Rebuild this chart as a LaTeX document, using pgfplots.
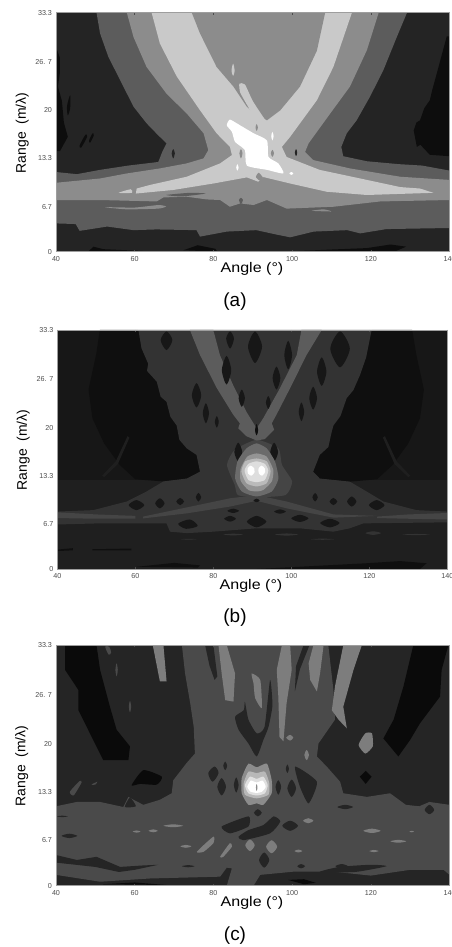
\documentclass[border=0pt]{standalone}
\usepackage{pgfplots}
\pgfplotsset{compat=1.18}
\usepackage{fontspec}
\setmainfont{Liberation Sans}
\newcommand\rect[2]{\addplot[fill=#1,draw=none,forget plot] coordinates {#2} --cycle;}
\newcommand\poly[2]{\addplot[fill=#1,draw=none,smooth cycle,tension=0.35,forget plot] coordinates {#2};}
\newcommand\blob[2]{\addplot[fill=#1,draw=none,smooth cycle,forget plot] coordinates {#2};}
\definecolor{k0}{gray}{0.05}
\definecolor{k1}{gray}{0.14}
\definecolor{k2}{gray}{0.36}
\definecolor{k3}{gray}{0.55}
\definecolor{k4}{gray}{0.79}
\definecolor{b0}{gray}{0.06}
\definecolor{b1}{gray}{0.09}
\definecolor{b2}{gray}{0.12}
\definecolor{b3}{gray}{0.20}
\definecolor{b4}{gray}{0.27}
\definecolor{b5}{gray}{0.36}
\definecolor{c0}{gray}{0.04}
\definecolor{c1}{gray}{0.145}
\definecolor{c2}{gray}{0.29}
\definecolor{c3}{gray}{0.49}
\pgfplotsset{
 panel/.style={
  scale only axis, anchor=south west, axis on top,
  xmin=40,xmax=140,ymin=0,ymax=33.3,
  xtick={40,60,80,100,120,140},
  xticklabels={40,60,80,100,120,140},
  tick align=inside, xtick pos=both, ytick pos=left,
  major tick length=2bp,
  ytick style={draw=none}, xtick style={draw=black!70,line width=.5bp},
  axis line style={draw=black!38,line width=.6bp},
  tick label style={font=\fontsize{7.2}{8}\selectfont,text=black!70},
  xticklabel style={yshift=-1.2bp},
  yticklabel style={xshift=-.5bp},
 }
}
\begin{document}
\begin{tikzpicture}[x=1bp,y=1bp]
\path[use as bounding box] (0,0) rectangle (452,947);
% ---------------- (a)
\begin{axis}[panel,at={(56bp,695.3bp)},width=393.5bp,height=239bp,
  ytick={0,6.26,13,19.69,26.47,33.3},yticklabels={0,6.7,13.3,20,26. 7,33.3}]
\rect{k1}{(40,0)(140,0)(140,33.3)(40,33.3)}
\rect{k0}{(48.2,0)(49.5,.7)(52,.35)(62,.1)}
\rect{k0}{(72.4,.2)(76,.9)(80.5,.4)(81,0)}
\rect{k0}{(97.8,0)(110,.3)(119,.5)(125,1)(129,.7)(126,0)}
\rect{k0}{(40,28.5)(41,27)(41,25)(40.5,23)(41.5,21)(42,18)(43,16)(41,14)(40,14)}
\rect{k0}{(139.3,30)(136.8,24.9)(135.6,22.5)(135,21.1)(133.6,20)(132.5,18.3)(131.6,18)(130.9,16.9)(131.7,14.6)(132.6,14.9)(135,13.5)(140,13.3)(140,30)}
\blob{k0}{(42.8,20.3)(43.6,21.8)(43.6,20)(43,19)}
\blob{k0}{(46,14.8)(47.5,16.3)(47.9,16)(46.4,14.5)}
\blob{k0}{(48.4,15.5)(49.3,16.5)(49.6,16.2)(48.7,15.2)}
\rect{k2}{(50.3,33.3)(51.2,30.4)(53.3,27.15)(56.3,23.9)(59.7,20.2)(63,17.9)(66,16.2)(68.1,15.1)(67,13.9)(66,12.5)(58.4,12)(51.2,11.4)(45.3,10.8)(40,11.1)(40,3.94)(45,3.85)(46,2.9)(53,3.5)(59.7,3)(65.5,3.1)(75.7,3)(76.6,2.1)(83.4,2.8)(90.9,3)(95.9,2.4)(99.5,2)(105.5,2.8)(114,3)(117.3,2.55)(124,3.15)(140,3.3)(140,11.3)(133,12)(127,12.2)(119,12.6)(113,13.3)(112.5,14.6)(113.9,16.5)(116.4,18.3)(119.8,21.6)(123.2,25.3)(126.6,29.9)(129.2,33.3)}
\blob{k1}{(64.8,13.4)(65.5,14)(66.2,13.4)(65.5,12.8)}
\blob{k1}{(69.4,13.7)(69.8,14.3)(70.2,13.7)(69.8,13)}
\rect{k3}{(58,33.3)(59.7,29.9)(63,25.75)(68.1,22)(73.2,19.26)(77.5,16.5)(78.7,14.15)(77.5,13)(73.2,12.3)(66.4,11.6)(58,10.9)(51.2,10.2)(40,9.6)(40,7.2)(51.2,7.2)(65.6,7)(67.3,7.56)(73.2,7.66)(78.3,7.28)(81.7,7.2)(84.2,6.26)(86.8,6.73)(90.2,6.5)(93.6,7.2)(98.6,6)(110.5,6.26)(122.4,7)(140,7.2)(140,10)(127.5,10.44)(114.7,11.6)(105.4,12.76)(103.3,13.9)(104.2,15.1)(109.7,19.26)(114.7,23)(119,28.07)(122,33.3)}
\poly{k3}{(52.5,6.2)(60,6.15)(66,6.5)(68,6.3)(66,6)(58,5.9)}
\poly{k3}{(105,5.7)(110,5.6)(108,5.9)}
\poly{k2}{(123,6.8)(130,7)(139,6.6)(135,6.5)}
\poly{k2}{(68,7.9)(74,8.2)(78,8.1)(72,7.7)}
\rect{k4}{(64.3,33.3)(66.4,29)(70.7,24.4)(76.6,19.7)(80.8,16.5)(84.2,14.6)(84.7,13.46)(81.7,12.3)(73.2,10.44)(63.9,9.3)(60.5,8.8)(60.3,8.1)(69.8,8.6)(80,9.5)(88.5,10.35)(91.4,9.75)(92.7,10.4)(99.5,9.5)(108.8,8.35)(119,7.9)(135.9,8.2)(132.5,8.8)(127.5,9)(117.3,10.2)(107,11.4)(98.6,13.2)(97.4,14.6)(99.5,16)(106.3,21.1)(110.5,25.75)(115.2,33.3)}
\poly{k4}{(55.9,8.2)(59,8.7)(59.3,8.2)}
\rect{k3}{(74.5,33.3)(76.6,30.4)(80.8,25.75)(85.1,23)(88.5,20.2)(91,19)(93.6,18.3)(97,19.7)(102,23)(106.3,28)(108.4,33.3)}
\poly{k4}{(86.6,23.4)(88,23.3)(90,21)(93,18.5)(94,18)(91,18.3)(88.5,20.5)(86.8,22.2)}
\blob{k4}{(84.6,25.2)(85,26.2)(85.4,25.2)(85,24.5)}
\blob{k3}{(80.5,13.7)(80.8,14.2)(81.1,13.7)(80.8,13.2)}
\blob{k3}{(86.6,13.7)(87,14.3)(87.4,13.7)(87,13)}
\blob{k3}{(94.6,13.7)(95,14.2)(95.4,13.7)(95,13.2)}
\blob{k3}{(90.7,17.3)(91,17.8)(91.3,17.3)(91,16.8)}
\blob{k1}{(100.7,13.8)(101,14.3)(101.3,13.8)(101,13.3)}
\blob{k2}{(86.5,7.2)(87,7.5)(87.5,7.2)(87,6.6)}
\poly{k3}{(90.8,10.4)(91.8,9.9)(92.6,10.3)(91.5,11)}
\poly{white}{(83.4,17.6)(84.2,18.4)(86.8,17.6)(90.2,16.5)(93.6,15.5)(94,13.2)(96.5,12.3)(97.8,10.9)(93.6,11.4)(88.5,12)(88,14.15)(85.5,15.3)(84.7,16.7)}
\blob{white}{(85.8,11.7)(86.1,12.2)(86.4,11.7)(86.1,11.3)}
\blob{white}{(94.7,16.1)(95,16.7)(95.3,16.1)(95,15.5)}
\blob{white}{(99.3,10.9)(99.8,11.1)(100.3,10.9)(99.8,10.7)}
\end{axis}
% ---------------- (b)
\begin{axis}[panel,at={(57.3bp,378bp)},width=390bp,height=239bp,
  ytick={0,6.26,13,19.69,26.47,33.3},yticklabels={0,6.7,13.3,20,26. 7,33.3}]
\rect{b1}{(40,0)(140,0)(140,33.3)(40,33.3)}
\rect{b2}{(40,0)(140,0)(140,12.4)(40,12.4)}
\rect{b0}{(50.9,33.3)(60.8,33.3)(61.6,30.75)(65.5,26.1)(68,23.3)(70.6,20)(73.2,16.8)(75.7,15.9)(76.6,13.56)(73.2,12.6)(67.2,12.2)(60,12.5)(56,14.5)(52,17.5)(49,21)(48,25)(50,30)}
\rect{b0}{(131,33.3)(120.6,33.3)(117.6,27)(114.2,23.8)(110.8,20)(109.5,17)(107.3,15.9)(105.6,13.56)(107.3,12.6)(115,12.17)(122,12.5)(126,14.5)(130,17.5)(133,21)(134,25)(132,30)}
\rect{b2}{(51.5,13)(55,15)(58,18.5)(58.5,18.3)(55.5,14.6)(52,12.8)}
\rect{b2}{(130.5,13)(127,15)(124,18.5)(123.5,18.3)(126.5,14.6)(130,12.8)}
\rect{b0}{(60.3,.3)(70,.85)(76.6,.5)(76,.2)}
\rect{b0}{(91.1,0)(119.3,.8)(127.9,1.1)(134.7,.8)(133,0)}
\rect{b0}{(40,2.7)(44,2.9)(44,2.6)(40,2.5)}
\rect{b0}{(49,2.75)(59,2.85)(59,2.6)(49,2.6)}
% ragged cross
\rect{b3}{(60.8,33.3)(61.6,30.75)(63.3,28.6)(63,27.6)(65.5,26.1)(66.5,24)(68,23.3)(69,21.2)(70.6,20)(71.3,18)(73.2,16.8)(75.7,15.9)(76.6,13.56)(73.2,12.6)(67.2,12.2)(62.9,10.8)(57.8,9.4)(49.2,8.2)(40,8)(40,6.2)(50.9,6.36)(63.8,6.36)(68,6.36)(68.9,5.2)(73.2,5)(80,5.2)(91.1,5.67)(102.2,5.67)(110.8,5.2)(115,5.67)(118.5,6.36)(140,6.5)(140,8)(132.1,8.2)(123.6,9.4)(119.3,10.8)(115,12.17)(107.3,12.6)(105.6,13.56)(107.3,15.9)(109.5,17)(110.3,19)(110.8,20)(112.6,21.3)(114.2,23.8)(115.9,24.9)(117.6,27)(119.2,29.5)(120.6,33.3)}
\poly{b4}{(91.1,18)(85.5,16.6)(83.5,14.5)(85.5,11.7)(86.3,10.3)(91.1,10)(98.5,10.3)(100.2,12.2)(97.6,14.5)(96.7,16.8)}
\rect{b4}{(62,7.3)(84.3,9.85)(91.1,10.3)(98.8,9.4)(110.8,7.6)(121.9,7.4)(110.8,7.15)(98.8,8.45)(91.1,9.5)(84.3,8.7)(73.2,7.75)(62,7.05)}
\rect{b4}{(40,7.9)(50,7.6)(60,7.4)(60,7)(50,7)(40,7.1)}
\rect{b4}{(122,7.3)(130,7.6)(140,7.8)(140,6.9)(130,7)(122,7.1)}
\rect{b5}{(74,33.3)(76.6,29.8)(80.9,25.2)(85.1,21.5)(86.8,20.3)(86.4,19.6)(88.5,18.5)(91.1,17.9)(93.2,18.1)(95.6,19.4)(95,20.3)(96.2,21.5)(99.7,25.2)(103.9,29.8)(107.8,33.3)(102.6,33.3)(101.4,29.8)(97.1,25.2)(92.8,21)(91.1,19.6)(88.5,21.9)(85.1,25.6)(81.7,29.8)(80,33.3)}
\blob{b0}{(90.7,19.3)(91.1,20.2)(91.5,19.3)(91.1,18.6)}
\blob{b1}{(74.5,24.2)(75.7,25.9)(76.9,24.2)(75.7,22.5)}
\blob{b1}{(77.3,21.7)(78.1,23.1)(78.9,21.7)(78.1,20.3)}
\blob{b1}{(80.4,20.5)(80.9,21.3)(81.4,20.5)(80.9,19.7)}
\blob{b3}{(80.4,17)(80.9,17.9)(81.4,17)(80.9,16.1)}
\blob{b1}{(86.5,23.8)(87.3,25)(88.1,23.8)(87.3,22.6)}
\blob{b1}{(93.5,23.2)(94.1,24.1)(94.7,23.2)(94.1,22.3)}
\blob{b1}{(82.2,27.7)(83.4,29.7)(84.6,27.7)(83.4,25.7)}
\blob{b1}{(95.2,26.6)(96.2,28.2)(97.2,26.6)(96.2,25)}
\blob{b1}{(88.9,31)(90.7,33.1)(92.5,31)(90.7,28.7)}
\blob{b1}{(83.3,32.1)(84.3,33.1)(85.3,32.1)(84.3,30.7)}
\blob{b1}{(66.5,31.9)(68,33.1)(69.5,31.9)(68,30.5)}
\blob{b1}{(98.2,29.8)(99.2,31.8)(100.2,29.8)(99.2,27.8)}
\blob{b1}{(106.6,27.5)(107.8,29.5)(109,27.5)(107.8,25.5)}
\blob{b1}{(110,30.7)(112.5,33.1)(115,30.7)(112.5,28.1)}
\blob{b1}{(104.6,23.8)(105.6,25.4)(106.6,23.8)(105.6,22.2)}
\blob{b1}{(101.9,21.9)(102.6,23.2)(103.3,21.9)(102.6,20.6)}
\blob{b3}{(100.4,16.8)(100.9,17.6)(101.4,16.8)(100.9,16)}
\blob{b1}{(85.4,16.3)(86.4,17.6)(87.4,16.3)(86.4,15)}
\blob{b1}{(94.6,16.3)(95.6,17.6)(96.6,16.3)(95.6,15)}
\blob{b1}{(65.1,9.15)(66.3,9.85)(67.5,9.15)(66.3,8.45)}
\blob{b1}{(70.5,9.4)(71.5,9.9)(72.5,9.4)(71.5,8.9)}
\blob{b1}{(75.5,10)(76.2,10.6)(76.9,10)(76.2,9.4)}
\blob{b1}{(105.4,10)(106.1,10.6)(106.8,10)(106.1,9.4)}
\blob{b1}{(109.8,9.4)(110.8,9.9)(111.8,9.4)(110.8,8.9)}
\blob{b1}{(114.3,9.4)(115.5,10.1)(116.7,9.4)(115.5,8.7)}
\blob{b1}{(119.9,8.9)(121.9,9.6)(123.9,8.9)(121.9,8.2)}
\blob{b1}{(58.3,8.9)(60.3,9.6)(62.3,8.9)(60.3,8.2)}
\blob{b1}{(83.6,8.1)(85.1,8.4)(86.6,8.1)(85.1,7.8)}
\blob{b1}{(90.3,9.55)(91.1,9.8)(91.9,9.55)(91.1,9.3)}
\blob{b1}{(95.6,8)(97.1,8.3)(98.6,8)(97.1,7.7)}
\blob{b1}{(100,7.05)(102.2,7.55)(104.4,7.05)(102.2,6.55)}
\blob{b1}{(107.4,6.4)(109.9,7)(112.4,6.4)(109.9,5.8)}
\blob{b1}{(88.6,6.6)(91.1,7.4)(93.6,6.6)(91.1,5.8)}
\blob{b1}{(82.8,7)(84.3,7.4)(85.8,7)(84.3,6.6)}
\blob{b1}{(71,6.3)(74,6.9)(76,6)(73,5.6)}
\blob{b3}{(82.6,4.8)(85.1,4.92)(87.6,4.8)(85.1,4.68)}
\blob{b3}{(95.8,4.8)(98.8,4.95)(101.8,4.8)(98.8,4.65)}
\blob{b3}{(119,5)(121,5.25)(123,5)(121,4.75)}
\blob{b3}{(128.5,4.8)(132,4.88)(135.5,4.8)(132,4.72)}
\blob{b3}{(71.7,4.15)(73.7,4.21)(75.7,4.15)(73.7,4.09)}
\blob{b3}{(105,4.15)(108,4.23)(111,4.15)(108,4.07)}
\poly{black!58}{(91.1,17.5)(93.7,16.8)(95.8,15)(96.7,12.6)(95,10.8)(91.1,10.1)(87.3,10.8)(85.6,12.6)(86.2,15)(88.5,16.8)}
\poly{black!42}{(91.1,16.1)(93.7,15.65)(95.4,13.8)(95,12.2)(92.8,11)(91.1,10.8)(89,11)(87,12.3)(87,14)(88.7,15.65)}
\poly{black!27}{(91.1,15.4)(93.7,15)(94.7,13.6)(93.7,11.95)(91.1,11.5)(88.5,11.95)(87.2,13.6)(88.2,15)}
\poly{black!13}{(91.1,15)(93.2,14.65)(94.1,13.7)(93.2,12.4)(91.1,12.1)(89,12.4)(88,13.7)(89,14.65)}
\blob{white}{(89.6,14.4)(90.5,14)(90.6,13.5)(89.8,13)(88.9,13.3)(88.8,14)}
\blob{white}{(92.4,14.4)(93.2,14)(93.3,13.5)(92.5,13)(91.7,13.3)(91.6,14)}
\end{axis}
% ---------------- (c)
\begin{axis}[panel,at={(56bp,61.3bp)},width=393.5bp,height=240.4bp,
  ytick={0,6.26,13,19.69,26.47,33.3},yticklabels={0,6.7,13.3,20,26. 7,33.3}]
\rect{c1}{(40,0)(140,0)(140,33.3)(40,33.3)}
\rect{c0}{(42.3,33.3)(50.3,33.3)(51.2,29.9)(53.7,24.8)(55.4,21.6)(58.8,19.3)(58.4,17.4)(52,17.4)(47.8,22)(45.7,24.3)(45.7,27.1)(42.3,29.9)}
\rect{c0}{(130.8,33.3)(139.7,33.3)(138,29.9)(137.6,26.2)(132.5,22.5)(130,20.2)(127,17.9)(123.2,20.4)(125.8,23)(128.3,27.6)}
\poly{c0}{(59.2,13.9)(62.2,16)(66.9,15.1)(65.6,14)(61.4,14.1)}
\rect{c0}{(117.2,15.1)(118.7,15.9)(120.2,15.1)(118.7,14.1)}
\rect{c2}{(72,33.3)(72.8,29.4)(74.1,25.3)(75,22)(75.3,18.3)(73.2,17)(69.8,14.6)(69.4,12.8)(66.4,11.9)(62.2,11.2)(59.7,11.9)(58.4,12.3)(57.1,10.9)(51.2,11.6)(45.3,11.6)(40,11)(40,1.5)(51.2,.55)(63.9,1)(81.7,1.25)(83.4,2.5)(84.7,2.4)(83.4,0)(90.2,0)(91.9,1.5)(100.3,1.94)(110.5,1.94)(120,1.4)(130,2.2)(138.5,2.2)(140,1.5)(140,11.2)(134.9,11.6)(132.3,11)(128.9,11.2)(124.9,12.8)(119,12.3)(113,12.8)(112.2,14.4)(108.8,16.5)(106.3,17.9)(106.7,19.7)(110.9,23)(110.5,27.1)(109.2,33.3)}
\rect{c1}{(40,4.25)(45.3,3.56)(50.3,4)(56.3,2.6)(62,2.8)(66,2.9)(60,2.2)(56,1.9)(50,2.6)(45,2.9)(40,3.2)}
\poly{c1}{(107,1.9)(112,2.6)(120,2.9)(124,2.7)(116,1.9)}
\rect{c0}{(99,.8)(103,.9)(106,.4)(103,.2)}
\rect{c0}{(52,.2)(60,.45)(68,.1)}
% slivers and strips
\rect{c1}{(77.9,33.3)(80,33.3)(81,29)(80.3,28.5)(79,30.5)}
\rect{c1}{(102.9,33.3)(104.4,33.3)(102,30)(100.7,26.9)(101,30.4)}
\poly{c1}{(88,25.5)(88.9,23)(91,21.1)(93,22)(94.4,28.5)(95,25)(94,22)(92.7,20.2)(91,17.9)(88.9,19.7)(86.4,21.6)(85.5,23.4)(87.7,24.3)}
\rect{c3}{(64.6,33.3)(67.3,33.3)(68.1,28.3)(66.4,28.3)(65.5,30.8)}
\rect{c3}{(81.3,33.3)(83.4,33.3)(85.5,29.4)(85.1,25.5)(83,25.7)(82.1,29.4)}
\poly{c3}{(89.7,29.4)(91.9,28.5)(92.3,24.6)(90.6,26)(90.2,28)}
\rect{c3}{(97.4,33.3)(99.5,33.3)(99.9,29.9)(98.6,25.3)(97.8,20)(96.8,20.6)(96.5,26.2)(96.1,29.9)}
\rect{c3}{(105.4,33.3)(108,33.3)(107.1,29.4)(106.3,26.9)(104.6,28.5)(104.2,30.8)}
\rect{c3}{(113,33.3)(117.7,33.3)(115.6,29.9)(113,24.8)(113.9,21.8)(111.8,23)(110.1,24.3)(110.9,27.6)}
\poly{c3}{(118.6,21.1)(120.3,21.1)(120.5,19.3)(118.6,18.3)(116.9,19.5)}
\blob{c3}{(103.1,18.1)(103.7,18.8)(104.3,18.1)(103.7,17.4)}
\blob{c3}{(98.5,20.5)(99.5,20.9)(100.3,20.5)(99.5,20.1)}
\blob{c2}{(55.1,29.9)(55.4,30.8)(55.7,29.9)(55.4,29)}
\blob{c2}{(58.5,24.8)(58.8,25.6)(59.1,24.8)(58.8,24)}
\blob{c2}{(52.5,33.1)(53.5,33.1)(54,32.3)(53.4,32)}
\poly{c2}{(43.5,13)(46,14.5)(46.5,14.3)(44.5,12.5)}
\poly{c2}{(49,14)(50.5,14.4)(50,14)}
% dark spots
\blob{c1}{(78.7,15.6)(80.3,16.5)(81.3,15.6)(79.8,14.4)}
\blob{c1}{(81,13.7)(82.1,14.9)(83.2,13.7)(82.1,12.5)}
\blob{c1}{(85.2,13.95)(85.8,15)(86.4,13.95)(85.8,12.9)}
\blob{c1}{(95.8,13.7)(96.5,14.6)(97.2,13.7)(96.5,12.6)}
\blob{c1}{(98.8,13.5)(99.9,14.7)(101,13.5)(99.9,12.3)}
\poly{c1}{(100.8,16.5)(106.3,14.4)(104.2,11.4)(102,13.7)}
\blob{c1}{(82.5,16.6)(83,17.2)(83.5,16.6)(83,16)}
\blob{c1}{(98.4,16.2)(98.8,16.8)(99.2,16.2)(98.8,15.6)}
\blob{c1}{(90.3,10.1)(91.3,10.6)(92.3,10.1)(91.3,9.6)}
\poly{c1}{(82.1,8.2)(88.9,9.6)(88.9,8.2)(84.2,7.25)}
\poly{c1}{(86.4,6.8)(88.9,7.7)(92.7,8.4)(95.3,9.6)(97,8.9)(94.4,7.25)(87.6,6.3)}
\blob{c1}{(97.5,8.3)(99.5,9)(101.5,8.3)(99.5,7.6)}
\blob{c1}{(91.6,3.55)(92.9,4.6)(94.2,3.55)(92.9,2.5)}
\poly{c1}{(57.5,10.9)(58.8,12.2)(60.3,11)}
\blob{c1}{(111.5,10.9)(113.5,11.2)(115.5,10.9)(113.5,10.6)}
\blob{c1}{(133.7,10.5)(134.9,11.2)(136.1,10.5)(134.9,9.9)}
\blob{c1}{(41.4,6.9)(43.4,7.2)(45.4,6.9)(43.4,6.6)}
\blob{c1}{(72,2.7)(73.6,2.85)(75.2,2.7)(73.6,2.55)}
\blob{c1}{(111,2.7)(112.6,3)(114.2,2.7)(112.6,2.4)}
\blob{c1}{(101.3,2.7)(102.3,3)(103.3,2.7)(102.3,2.4)}
\blob{c1}{(40.2,9.6)(41.5,9.7)(43,9.6)(41.5,9.5)}
% light spots
\poly{c3}{(75.8,4.7)(80,6.8)(80,5.9)(77.5,4.7)}
\poly{c3}{(81.7,4)(84.2,5.9)(84.7,5.4)(82.5,4)}
\blob{c3}{(88.1,5.6)(89.3,6.4)(90.5,5.6)(89.3,4.8)}
\blob{c3}{(93.4,5.4)(94.8,6.3)(96.2,5.4)(94.8,4.5)}
\blob{c3}{(102.8,9)(104.1,9.35)(105.4,9)(104.1,8.65)}
\blob{c3}{(67.3,8.3)(69.8,8.5)(72.3,8.3)(69.8,8.1)}
\blob{c3}{(63.5,7.6)(64.7,7.8)(65.9,7.6)(64.7,7.4)}
\blob{c3}{(59.5,7.5)(60.5,7.65)(61.5,7.5)(60.5,7.35)}
\blob{c3}{(71.6,5.45)(73,5.65)(74.4,5.45)(73,5.25)}
\blob{c3}{(118.1,7.6)(120.3,7.9)(122.5,7.6)(120.3,7.3)}
\blob{c3}{(125,6.15)(127,6.35)(129,6.15)(127,5.95)}
\blob{c3}{(119.6,4.8)(120.8,4.95)(122,4.8)(120.8,4.65)}
\blob{c3}{(100.6,4.8)(101.6,5)(102.6,4.8)(101.6,4.6)}
\blob{c3}{(129.8,7.5)(130.4,7.6)(131,7.5)(130.4,7.4)}
% peak
\poly{black!45}{(88.9,16.9)(91,16.4)(93.6,16.9)(94.8,14.65)(94.8,12.8)(92.7,11.2)(91,11.4)(88.9,11.2)(87.2,12.8)(87.2,14.9)}
\poly{black!28}{(88.9,15.8)(91,15.6)(93.1,15.8)(94.2,14.2)(94,12.6)(91,12.1)(88,12.6)(87.7,14.2)}
\poly{black!12}{(89.3,15.1)(91,14.8)(92.7,15.1)(93.8,13.95)(93.1,12.8)(91,12.5)(88.9,12.8)(88,13.95)}
\poly{white}{(89.5,14.55)(91,14.3)(92.5,14.55)(93.3,13.7)(92.3,13)(91,12.85)(89.5,13)(88.6,13.7)}
\blob{black!45}{(90.8,13.6)(91,14.1)(91.2,13.6)(91,13.1)}
\end{axis}
% ---------------- texts
\newcommand\anglelab[2]{\node[inner sep=0] at (#1,947-#2) {\scalebox{1.15}[1]{\fontsize{14}{16}\selectfont Angle (\textdegree)}};}
\newcommand\rangelab[2]{\node[inner sep=0,rotate=90] at (#1,947-#2) {\fontsize{14}{16}\selectfont Range\ \ (m/\char"03BB)};}
\anglelab{252}{269}
\anglelab{251}{586}
\anglelab{252}{903}
\rangelab{22.3}{133}
\rangelab{23.3}{450}
\rangelab{21.7}{766}
\node[inner sep=0] at (235,947-302) {\fontsize{19}{21}\selectfont (a)};
\node[inner sep=0] at (235,947-618) {\fontsize{19}{21}\selectfont (b)};
\node[inner sep=0] at (235,947-936) {\fontsize{19}{21}\selectfont (c)};
\end{tikzpicture}
\end{document}
